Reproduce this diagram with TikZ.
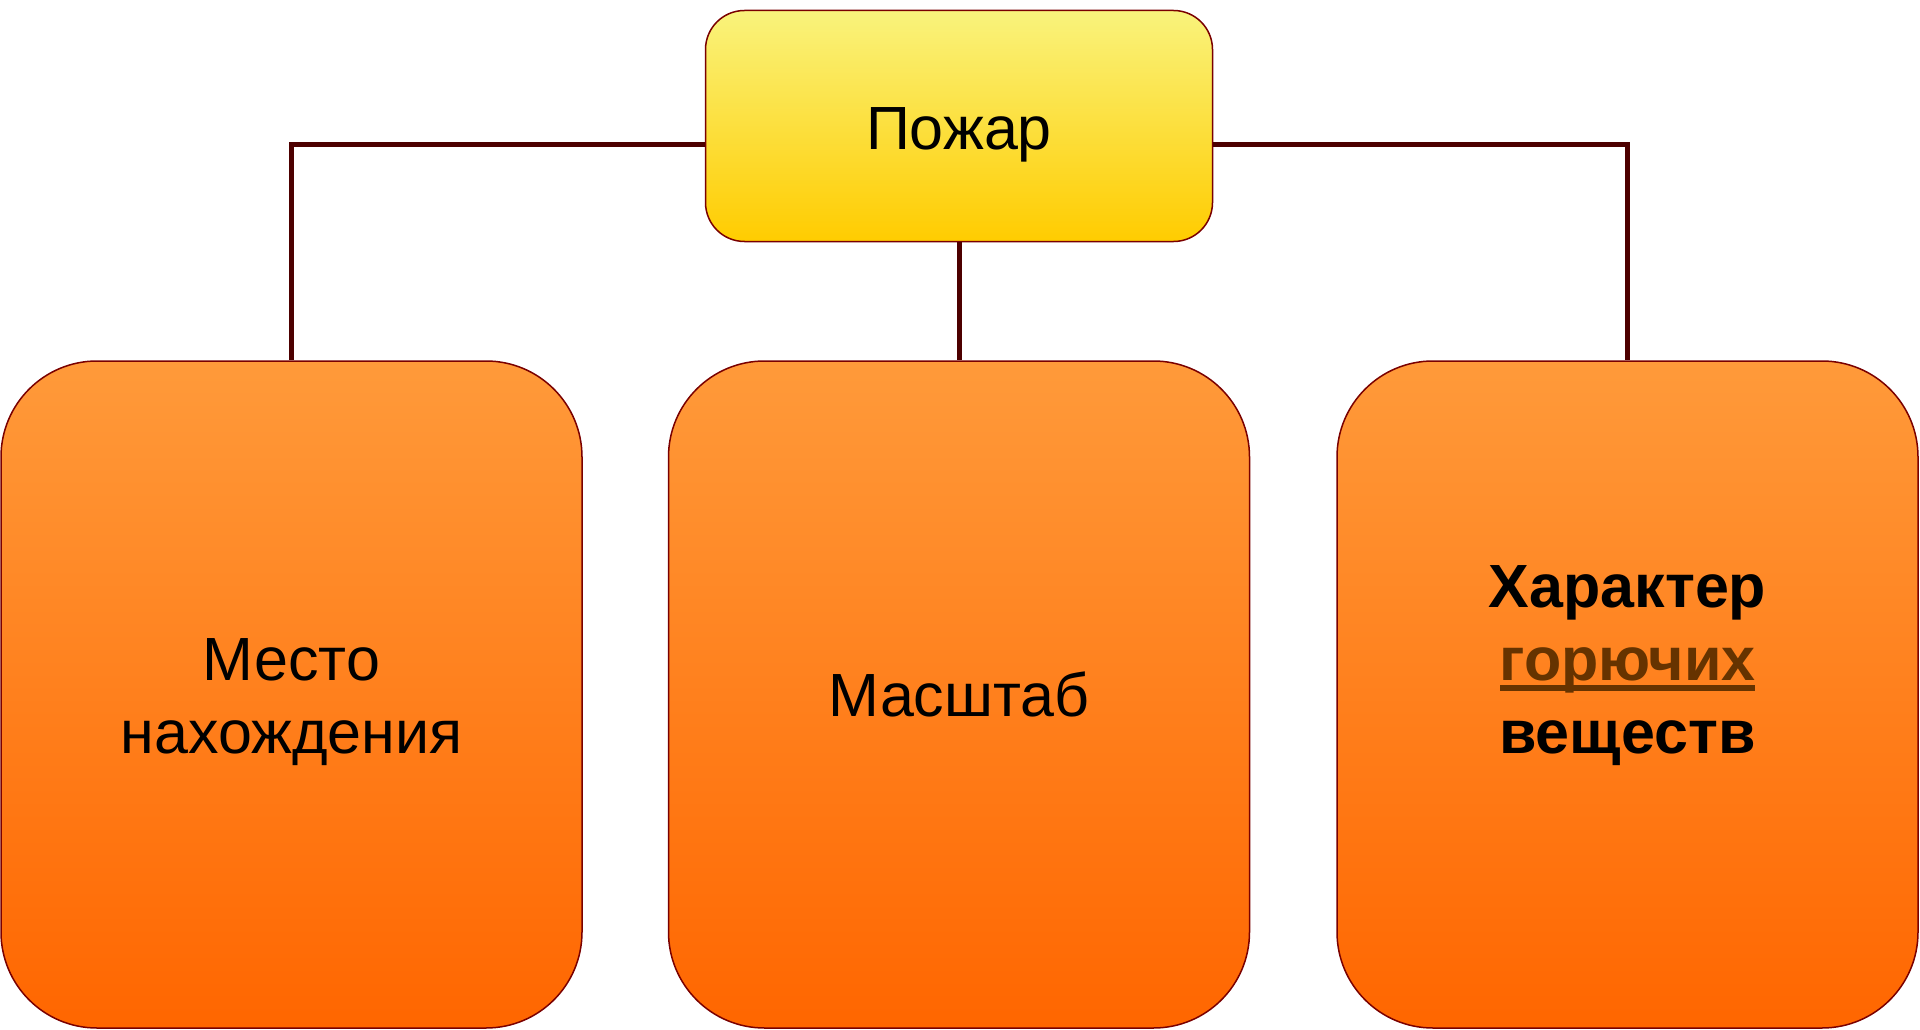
\documentclass[tikz,border=0pt]{standalone}
\usepackage{fontspec}
\setmainfont{Liberation Sans}
\definecolor{edgered}{HTML}{7A0000}
\definecolor{linkred}{HTML}{4D0000}
\definecolor{yeltop}{HTML}{F9F37C}
\definecolor{yelbot}{HTML}{FFCC00}
\definecolor{ortop}{HTML}{FF9A3A}
\definecolor{orbot}{HTML}{FF6600}
\definecolor{wordbrown}{HTML}{663300}
\newcommand\brownword[1]{\setbox0\hbox{#1}\rlap{\smash{\rule[-11pt]{\wd0}{6pt}}}\box0}
\begin{document}
\begin{tikzpicture}[x=1pt,y=-1pt,
        topbox/.style={draw=edgered,line width=1.5pt,rounded corners=39pt,
            top color=yeltop,bottom color=yelbot,minimum width=507pt,minimum height=231pt,
            inner sep=0pt,font=\fontsize{61}{73}\selectfont},
        subbox/.style={draw=edgered,line width=1.5pt,rounded corners=96pt,
            top color=ortop,bottom color=orbot,minimum width=581pt,minimum height=667pt,
            inner sep=0pt,align=center,font=\fontsize{61}{73}\selectfont},
        link/.style={draw=linkred,line width=5pt}]
        \useasboundingbox (0,0) rectangle (1920,1030);
        \node[topbox,text height=47pt,text depth=0pt] (fire) at (959,126) {Пожар};
        \node[subbox,text height=117pt,text depth=0pt] (place) at (291.5,694.5) {Место\\нахождения};
        \node[subbox,text height=44pt,text depth=0pt] (scale) at (959,694.5) {Масштаб};
        \node[subbox,text height=117pt,text depth=0pt,font=\fontsize{61}{73}\selectfont\bfseries]
            (kind) at (1627.5,694.5)
            {Характер\\\textcolor{wordbrown}{\brownword{горючих}}\\веществ};
        \draw[link] ([yshift=-18.5pt]fire.west) -| (place.north);
        \draw[link] ([yshift=-18.5pt]fire.east) -| (kind.north);
        \draw[link] (fire.south) -- (scale.north);
    \end{tikzpicture}
\end{document}
